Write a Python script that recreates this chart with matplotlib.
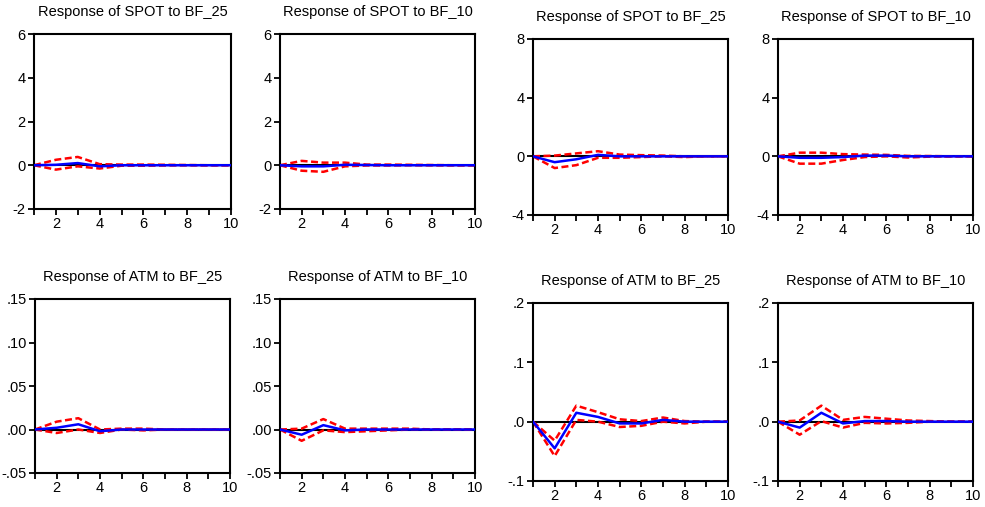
import numpy as np
import matplotlib
matplotlib.use("Agg")
import matplotlib.pyplot as plt
from matplotlib.ticker import FixedLocator, FuncFormatter

plt.rcParams['font.family'] = ['Liberation Sans', 'DejaVu Sans']

periods = list(range(1, 11))

titles = ["Response of SPOT to BF_25", "Response of SPOT to BF_10",
          "Response of SPOT to BF_25", "Response of SPOT to BF_10",
          "Response of ATM to BF_25", "Response of ATM to BF_10",
          "Response of ATM to BF_25", "Response of ATM to BF_10"]

# impulse responses (blue) and +/- 2 s.e. bands (red)
resp_spot_bf25_a = [0, 0.02, 0.10, -0.05, 0.0, 0.0, 0.0, 0.0, 0.0, 0.0]
up_spot_bf25_a = [0, 0.25, 0.38, 0.05, 0.03, 0.03, 0.02, 0.01, 0.0, 0.0]
lo_spot_bf25_a = [0, -0.20, -0.05, -0.15, -0.02, -0.02, -0.01, 0.0, 0.0, 0.0]

resp_spot_bf10_a = [0, -0.05, -0.05, 0.02, 0.01, 0.0, 0.0, 0.0, 0.0, 0.0]
up_spot_bf10_a = [0, 0.20, 0.12, 0.12, 0.03, 0.03, 0.02, 0.01, 0.0, 0.0]
lo_spot_bf10_a = [0, -0.25, -0.30, -0.05, -0.01, -0.01, 0.0, 0.0, 0.0, 0.0]

resp_spot_bf25_b = [0, -0.40, -0.20, 0.10, 0.0, 0.0, 0.0, 0.0, 0.0, 0.0]
up_spot_bf25_b = [0, 0.05, 0.20, 0.35, 0.12, 0.08, 0.05, 0.0, 0.0, 0.0]
lo_spot_bf25_b = [0, -0.80, -0.60, -0.10, -0.10, -0.05, 0.0, -0.05, 0.0, 0.0]

resp_spot_bf10_b = [0, -0.10, -0.10, -0.05, 0.05, 0.05, 0.0, 0.0, 0.0, 0.0]
up_spot_bf10_b = [0, 0.25, 0.25, 0.15, 0.12, 0.10, 0.03, 0.02, 0.0, 0.0]
lo_spot_bf10_b = [0, -0.50, -0.50, -0.25, -0.05, 0.0, -0.08, -0.02, 0.0, 0.0]

resp_atm_bf25_a = [0, 0.002, 0.006, -0.002, 0.0, 0.0, 0.0, 0.0, 0.0, 0.0]
up_atm_bf25_a = [0, 0.009, 0.013, 0.0, 0.001, 0.001, 0.0, 0.0, 0.0, 0.0]
lo_atm_bf25_a = [0, -0.004, 0.0, -0.004, 0.0, -0.001, 0.0, 0.0, 0.0, 0.0]

resp_atm_bf10_a = [0, -0.006, 0.005, -0.001, 0.0, 0.0, 0.0, 0.0, 0.0, 0.0]
up_atm_bf10_a = [0, 0.001, 0.012, 0.001, 0.001, 0.001, 0.001, 0.0, 0.0, 0.0]
lo_atm_bf10_a = [0, -0.013, -0.001, -0.003, -0.002, -0.001, 0.0, 0.0, 0.0, 0.0]

resp_atm_bf25_b = [0, -0.045, 0.015, 0.008, -0.003, -0.003, 0.003, 0.0, 0.0, 0.0]
up_atm_bf25_b = [0, -0.032, 0.027, 0.016, 0.004, 0.001, 0.007, 0.001, 0.0, 0.0]
lo_atm_bf25_b = [0, -0.058, 0.003, 0.0, -0.009, -0.007, 0.0, -0.003, 0.0, 0.0]

resp_atm_bf10_b = [0, -0.010, 0.015, -0.003, 0.001, 0.001, 0.0, 0.0, 0.0, 0.0]
up_atm_bf10_b = [0, 0.002, 0.027, 0.003, 0.008, 0.005, 0.002, 0.001, 0.0, 0.0]
lo_atm_bf10_b = [0, -0.022, 0.001, -0.010, -0.002, -0.003, -0.002, 0.0, 0.0, 0.0]

responses = [resp_spot_bf25_a, resp_spot_bf10_a, resp_spot_bf25_b, resp_spot_bf10_b,
             resp_atm_bf25_a, resp_atm_bf10_a, resp_atm_bf25_b, resp_atm_bf10_b]
uppers = [up_spot_bf25_a, up_spot_bf10_a, up_spot_bf25_b, up_spot_bf10_b,
          up_atm_bf25_a, up_atm_bf10_a, up_atm_bf25_b, up_atm_bf10_b]
lowers = [lo_spot_bf25_a, lo_spot_bf10_a, lo_spot_bf25_b, lo_spot_bf10_b,
          lo_atm_bf25_a, lo_atm_bf10_a, lo_atm_bf25_b, lo_atm_bf10_b]

y_ticks = [[-2, 0, 2, 4, 6], [-2, 0, 2, 4, 6], [-4, 0, 4, 8], [-4, 0, 4, 8],
           [-0.05, 0.0, 0.05, 0.10, 0.15], [-0.05, 0.0, 0.05, 0.10, 0.15],
           [-0.1, 0.0, 0.1, 0.2], [-0.1, 0.0, 0.1, 0.2]]


def eviews_fmt(decimals):
    # eviews style: no leading zero (.05, -.1)
    def f(v, pos):
        if decimals == 0:
            return "%d" % round(v)
        s = "%.*f" % (decimals, v)
        return s.replace("0.", ".", 1)
    return FuncFormatter(f)

fmt_dec = [0, 0, 0, 0, 2, 2, 1, 1]

# axes boxes in pixels: left, top, right, bottom
boxes = [(34, 34, 231, 209), (280, 34, 475, 209), (533, 39, 728, 215), (778, 39, 973, 215),
         (35, 299, 230, 473), (280, 299, 475, 473), (533, 303, 728, 481), (778, 303, 973, 481)]

W, H = 985, 507
fig = plt.figure(figsize=(W / 100, H / 100), dpi=100)

for i in range(8):
    l, t, r, b = boxes[i]
    ax = fig.add_axes([l / W, 1 - b / H, (r - l) / W, (b - t) / H])
    ax.axhline(0, color='black', lw=1.5, zorder=1)
    ax.plot(periods, responses[i], color='#0000ff', lw=1.8, zorder=3)
    ax.plot(periods, uppers[i], color='#ff0000', lw=1.8, ls=(0, (2.8, 1.4)), zorder=2)
    ax.plot(periods, lowers[i], color='#ff0000', lw=1.8, ls=(0, (2.8, 1.4)), zorder=2)
    ax.set_xlim(1, 10)
    ax.set_ylim(y_ticks[i][0], y_ticks[i][-1])
    ax.xaxis.set_major_locator(FixedLocator([2, 4, 6, 8, 10]))
    ax.xaxis.set_minor_locator(FixedLocator([1, 3, 5, 7, 9]))
    ax.yaxis.set_major_locator(FixedLocator(y_ticks[i]))
    ax.yaxis.set_major_formatter(eviews_fmt(fmt_dec[i]))
    ax.tick_params(which='both', direction='out', length=4, width=1.3, labelsize=10.5, pad=2)
    for sp in ax.spines.values():
        sp.set_linewidth(1.5)
    ax.set_title(titles[i], fontsize=10.5, pad=13)

fig.savefig("out.png", dpi=100)
